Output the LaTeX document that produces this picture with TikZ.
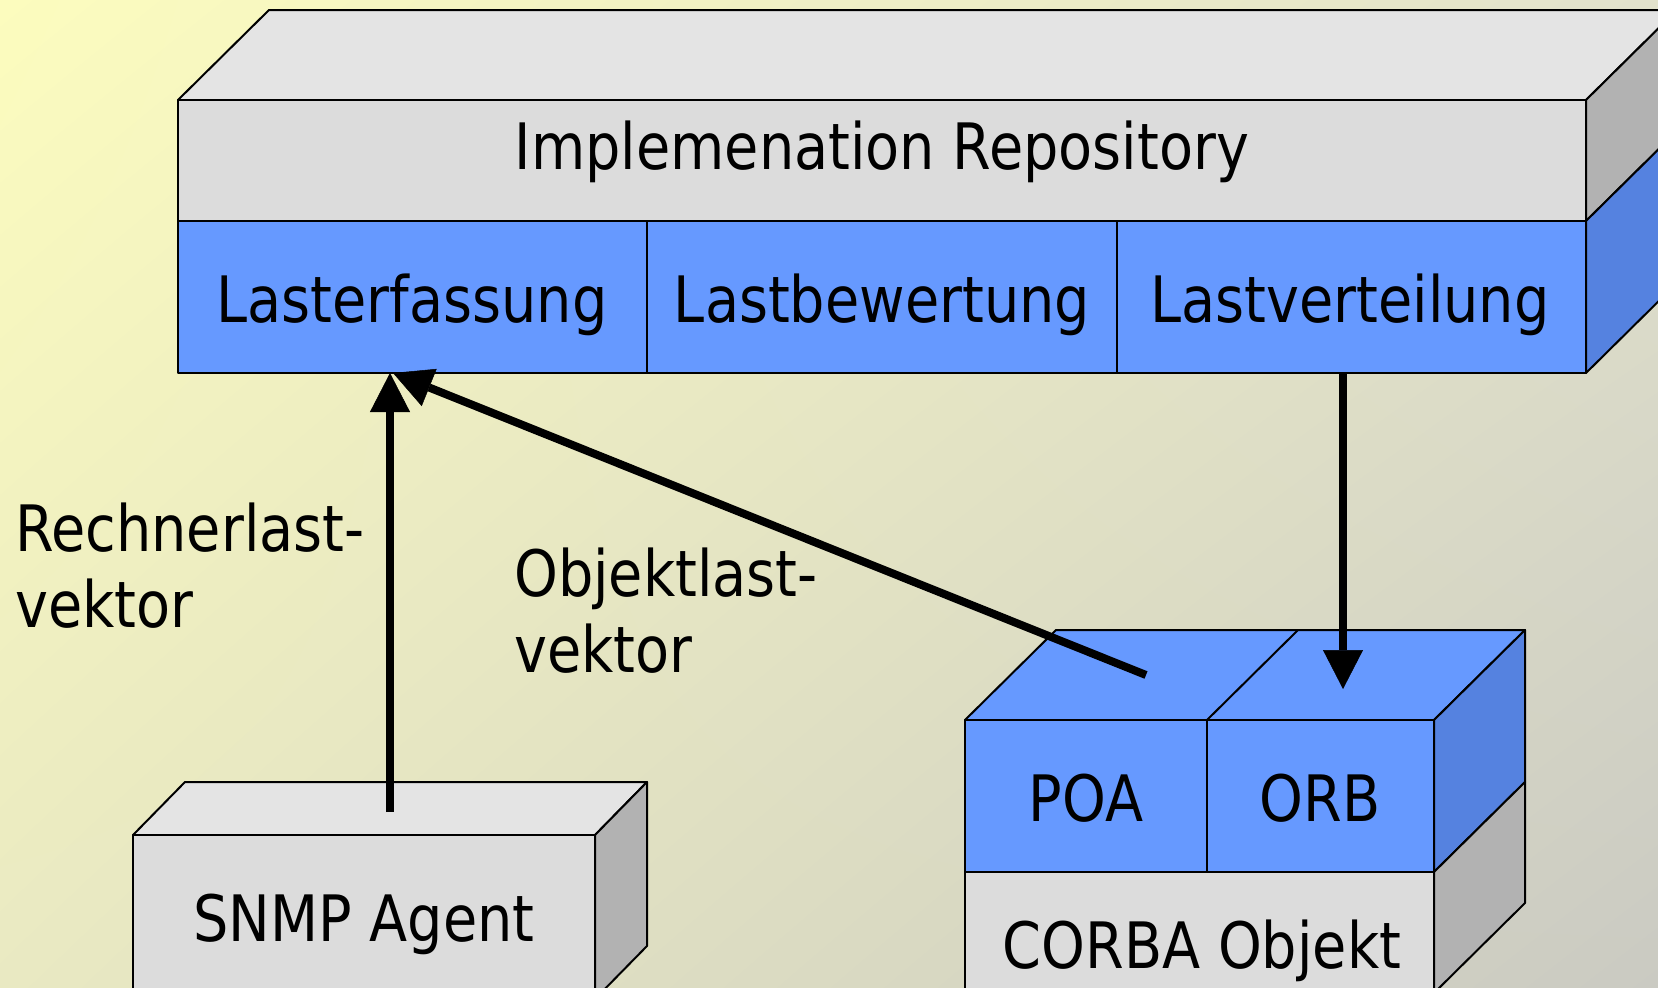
\documentclass[tikz,border=0pt]{standalone}
\usepackage{fontspec}
\newfontfamily\diafont[FakeStretch=0.87]{DejaVu Sans}
\usetikzlibrary{arrows.meta,shadings}

\definecolor{bgtl}{HTML}{FCFCBE}
\definecolor{bgtr}{HTML}{E2E2CC}
\definecolor{bgbl}{HTML}{E9E9C2}
\definecolor{bgbr}{HTML}{CACAC2}
\definecolor{topgrey}{HTML}{E4E4E4}
\definecolor{frontgrey}{HTML}{DCDCDC}
\definecolor{sidegrey}{HTML}{B2B2B2}
\definecolor{cellblue}{HTML}{6699FF}
\definecolor{sideblue}{HTML}{5582E0}

\begin{document}
\begin{tikzpicture}[x=1pt,y=-1pt,
    face/.style={draw=black,line width=2pt,line join=round},
    flow/.style={line width=8pt,-{Triangle[length=39pt,width=40pt,line width=0.5pt]}}]
      \clip (0,0) rectangle (1658,988);
      \shade[upper left=bgtl,upper right=bgtr,lower left=bgbl,lower right=bgbr]
        (0,0) rectangle (1658,988);

      % repository block
      \filldraw[face,fill=topgrey] (178,100) -- (269,10) -- (1677,10) -- (1586,100) -- cycle;
      \filldraw[face,fill=sidegrey] (1586,100) -- (1677,10) -- (1677,131) -- (1586,221) -- cycle;
      \filldraw[face,fill=sideblue] (1586,221) -- (1677,131) -- (1677,283) -- (1586,373) -- cycle;
      \filldraw[face,fill=frontgrey] (178,100) rectangle (1586,221);
      \foreach \xa/\xb in {178/647,647/1117,1117/1586}
        \filldraw[face,fill=cellblue] (\xa,221) rectangle (\xb,373);

      % SNMP block
      \filldraw[face,fill=topgrey] (133,835) -- (185,782) -- (647,782) -- (595,835) -- cycle;
      \filldraw[face,fill=sidegrey] (595,835) -- (647,782) -- (647,946) -- (595,999) -- cycle;
      \filldraw[face,fill=frontgrey] (133,835) rectangle (595,1000);

      % CORBA block
      \filldraw[face,fill=cellblue] (965,720) -- (1056,630) -- (1525,630) -- (1434,720) -- cycle;
      \draw[face] (1207,720) -- (1298,630);
      \filldraw[face,fill=sideblue] (1434,720) -- (1525,630) -- (1525,782) -- (1434,872) -- cycle;
      \filldraw[face,fill=sidegrey] (1434,872) -- (1525,782) -- (1525,903) -- (1434,993) -- cycle;
      \filldraw[face,fill=cellblue] (965,720) rectangle (1207,872);
      \filldraw[face,fill=cellblue] (1207,720) rectangle (1434,872);
      \filldraw[face,fill=frontgrey] (965,872) rectangle (1434,1000);

      \begin{scope}[every node/.style={font=\diafont\fontsize{64}{76}\selectfont,inner sep=0pt}]
        \node (repo)[anchor=base] at (882,169) {Implemenation Repository};
        \node (erf)[anchor=base] at (412,322) {Lasterfassung};
        \node (bew)[anchor=base] at (882,322) {Lastbewertung};
        \node (vert)[anchor=base] at (1350,322) {Lastverteilung};
        \node (agent)[anchor=base] at (364,941) {SNMP Agent};
        \node (poa)[anchor=base] at (1086,821) {POA};
        \node (orb)[anchor=base] at (1320,821) {ORB};
        \node (corba)[anchor=base] at (1202,968) {CORBA Objekt};
        % base of a two-line node sits on its last line
        \node (rlv)[anchor=base west,align=left] at (15,627) {Rechnerlast-\\vektor};
        \node (olv)[anchor=base west,align=left] at (514,672) {Objektlast-\\vektor};
      \end{scope}

      % arrow ends on the block faces
      \coordinate (agenttop) at (390,812);
      \coordinate (erfin) at (390,373);
      \coordinate (poatop) at (1146,675);
      \coordinate (erfin2) at (393,373);
      \coordinate (vertout) at (1343,373);
      \coordinate (orbtop) at (1343,689);

      \draw[flow] (agenttop) -- (erfin);
      \draw[flow] (poatop) -- (erfin2);
      \draw[flow] (vertout) -- (orbtop);
    \end{tikzpicture}
\end{document}
